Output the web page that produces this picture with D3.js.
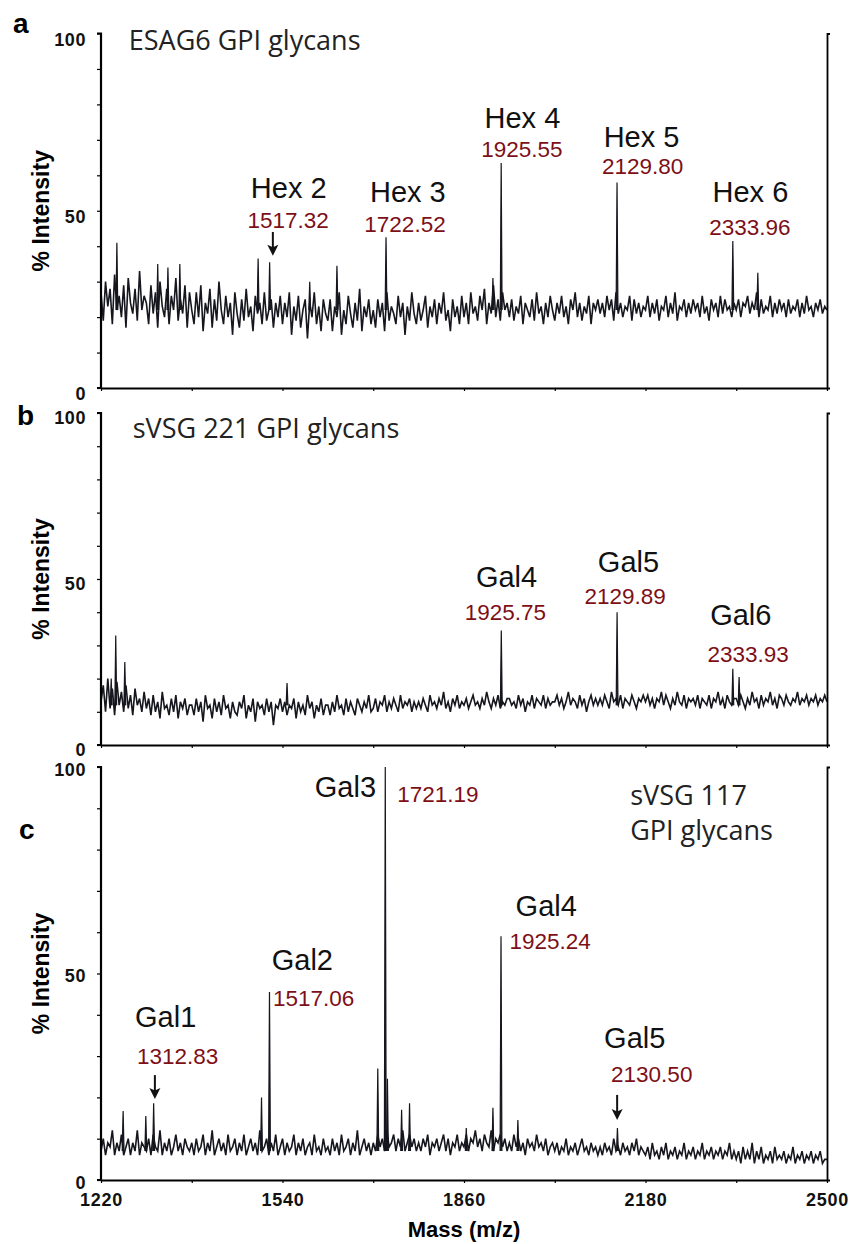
<!DOCTYPE html>
<html>
<head>
<meta charset="utf-8">
<script src="https://cdn.jsdelivr.net/npm/d3@7"></script>
<style>
body { margin: 0; background: #fff; }
</style>
</head>
<body>
<div id="chart"></div>
<script>
// Spektrumens brus: ett värde var 4:e m/z från 1220 till 2500
var mzStart = 1220, mzStep = 4;

var noiseA = [
 27,19,30,23,28,18,32,22,26,20,29,17,31,24,21,28,19,33,22,26,
 24,18,29,21,27,17,30,23,20,28,18,26,22,31,19,25,21,29,17,27,
 22,18,27,20,29,16,24,21,28,17,25,19,30,22,18,26,20,24,15,27,
 21,17,25,19,28,20,23,16,26,21,24,18,27,19,22,25,17,24,20,26,
 18,24,20,27,15,23,19,26,17,22,25,14,24,20,27,18,23,16,25,21,
 19,25,16,23,20,27,15,22,18,26,21,17,24,19,28,16,23,20,25,18,
 22,17,25,20,24,16,27,19,23,21,18,26,20,24,15,23,19,27,21,18,
 24,19,22,26,17,23,20,25,18,24,21,27,19,22,16,25,20,23,18,26,
 20,24,18,27,21,23,19,26,22,28,18,24,21,29,20,25,19,27,22,24,
 20,25,19,23,21,26,18,24,22,20,25,19,27,21,23,18,24,20,26,22,
 19,24,21,26,20,23,18,25,22,27,20,24,19,23,21,26,18,24,22,25,
 21,24,20,26,22,25,19,27,21,24,20,23,22,26,19,25,21,24,20,23,
 22,26,20,24,21,25,19,23,22,26,20,24,21,27,19,23,22,25,20,24,
 21,25,22,24,20,26,21,23,19,25,22,24,20,26,21,25,22,23,20,24,
 22,25,20,24,23,26,21,24,22,27,20,25,21,23,22,26,20,24,21,25,
 22,24,20,25,21,23,22,25,20,24,21,26,22,23,20,24,22,25,21,23,
 22
];

var noiseB = [
 13,18,10,20,11,17,9,19,12,16,10,18,11,15,9,17,12,14,10,16,
 11,14,9,15,10,13,8,16,11,12,9,14,10,15,8,13,11,14,9,12,
 12,9,14,10,13,7,15,11,12,8,14,10,13,9,15,11,12,8,13,10,
 9,13,11,15,8,12,10,14,7,13,11,12,9,14,10,13,6,12,11,14,
 10,13,9,12,11,14,8,13,10,12,9,15,11,13,8,12,10,14,9,12,
 12,9,13,10,15,11,12,9,14,10,13,11,9,14,12,10,13,11,15,10,
 11,14,10,13,12,15,10,13,11,14,12,10,15,11,13,12,14,10,13,11,
 13,11,14,12,10,15,12,13,11,14,12,16,11,13,10,14,12,15,11,13,
 12,14,11,13,15,12,13,11,14,12,16,13,11,14,12,15,11,13,12,14,
 14,12,13,11,15,12,14,10,13,12,15,11,14,13,12,15,11,14,12,13,
 13,15,12,14,11,13,16,12,14,13,11,15,12,14,10,13,15,12,14,12,
 14,12,15,13,11,16,13,14,12,15,11,14,13,12,15,13,11,14,13,15,
 13,15,12,14,11,14,13,16,12,15,13,11,14,12,16,13,12,15,11,14,
 13,14,12,15,11,14,13,12,15,11,14,13,16,12,14,11,15,13,12,14,
 14,12,15,13,11,14,12,16,13,14,11,15,12,14,13,16,12,14,11,15,
 14,12,15,13,12,14,13,16,12,14,13,15,12,14,13,15,12,14,13,15,
 13
];

var noiseC = [
 7,10,6,9,8,12,6,9,7,11,6,8,10,6,9,7,12,6,9,8,
 7,10,6,11,8,7,12,6,9,7,10,6,8,11,7,9,6,10,8,7,
 9,6,10,7,8,11,6,9,7,12,6,8,10,7,9,6,11,7,8,10,
 6,9,7,11,6,8,10,7,9,6,12,7,8,10,6,9,7,11,6,8,
 10,6,9,7,8,11,6,9,7,10,6,8,9,6,11,7,8,6,10,7,
 8,6,10,7,9,6,11,7,8,10,6,9,7,12,6,8,10,7,9,6,
 9,7,11,8,10,7,12,8,9,11,7,10,8,12,7,9,11,8,10,7,
 9,7,10,8,11,6,9,8,10,7,9,11,7,10,6,9,8,11,7,9,
 8,11,7,10,9,12,8,10,7,11,9,8,12,7,10,9,11,8,10,7,
 9,7,11,8,10,7,9,6,10,8,9,7,11,8,9,7,10,6,8,9,
 7,9,6,8,7,10,6,8,7,9,6,8,10,7,8,6,9,7,8,6,
 8,6,9,7,8,6,10,7,8,6,9,7,8,6,9,7,10,6,8,7,
 6,8,5,9,6,7,5,8,6,9,5,7,6,8,5,7,6,9,5,7,
 6,8,5,7,6,9,5,7,6,8,5,7,6,8,5,7,6,9,5,7,
 5,7,4,8,5,7,5,9,4,7,5,8,4,6,5,7,4,8,5,6,
 5,7,4,6,5,8,4,6,5,7,4,6,5,7,4,6,5,7,4,5,
 5
];

// Toppar [m/z, % intensitet] och brusets nivå under dem
var peaksA = [[1248,41],[1320,35],[1338,34],[1359,35],[1497,36.5],[1517.32,35.5],[1588,30],
              [1636,34.5],[1722.52,42.5],[1911,31],[1925.55,63.5],[2129.8,58],[2333.96,41.5],[2378,32.5]];
var peaksB = [[1238,20],[1246,33],[1262,25],[1548,18.7],[1925.75,34.5],[2129.89,40],[2333.93,23],[2345,20.5]];
var peaksC = [[1259,16.7],[1299,15.5],[1312.83,18.6],[1503,20],[1517.06,45.5],[1708,27],[1721.19,100],
              [1725,24.5],[1750,17],[1764,18.6],[1864,12.6],[1911,17.5],[1925.24,59],[1955,14.5],[2130.5,12.6]];
var baseA = 22, baseB = 12, baseC = 7;

// Texter
var titleA = ["ESAG6 GPI glycans"];
var titleB = ["sVSG 221 GPI glycans"];
var titleC = ["sVSG 117", "GPI glycans"];
var namesA = ["Hex 2", "Hex 3", "Hex 4", "Hex 5", "Hex 6"];
var massesA = ["1517.32", "1722.52", "1925.55", "2129.80", "2333.96"];
var namesB = ["Gal4", "Gal5", "Gal6"];
var massesB = ["1925.75", "2129.89", "2333.93"];
var namesC = ["Gal1", "Gal2", "Gal3", "Gal4", "Gal5"];
var massesC = ["1312.83", "1517.06", "1721.19", "1925.24", "2130.50"];

// Axlar
var xTicks = [1220, 1380, 1540, 1700, 1860, 2020, 2180, 2340, 2500];
var xLabels = [1220, 1540, 1860, 2180, 2500];
var yTicks = [0, 10, 20, 30, 40, 50, 60, 70, 80, 90, 100];
var yLabels = [0, 50, 100];

var width = 865, height = 1244;
var red = "#7d0f17", ink = "#16161f";

var svg = d3.select("#chart").append("svg")
    .attr("width", width).attr("height", height)
    .style("font-family", "'Liberation Sans', Arial, Helvetica, sans-serif");

var x = d3.scaleLinear().domain([1220, 2500]).range([101, 827]);

// Placering av etiketter i datakoordinater: [namn m/z, namn %, massa m/z, massa %]
var panels = [
    {letter: "a", letterX: 13, letterY: 33, top: 33.5, bottom: 388, labelDy: 11.5,
     noise: noiseA, peaks: peaksA, base: baseA,
     title: titleA, titlePos: [[1269, 95.3]], names: namesA, masses: massesA,
     place: [[1551, 53.6, 1550, 45.1], [1761, 52.5, 1756, 44], [1963, 73.3, 1962, 65.2],
             [2173, 68, 2175, 60.4], [2365, 52.5, 2364, 43.2]],
     arrows: [[1523, 44, 37.3]], showX: false},
    {letter: "b", letterX: 17, letterY: 425, top: 413, bottom: 745, labelDy: 10.5,
     noise: noiseB, peaks: peaksB, base: baseB,
     title: titleB, titlePos: [[1276, 92.5]], names: namesB, masses: massesB,
     place: [[1935, 47.6, 1933, 37.7], [2150, 52.1, 2144, 42.5], [2348, 36.1, 2361, 25]],
     arrows: [], showX: false},
    {letter: "c", letterX: 19, letterY: 839, top: 767, bottom: 1180, labelDy: 8,
     noise: noiseC, peaks: peaksC, base: baseC,
     title: titleC, titlePos: [[2153, 90.8], [2153, 82.3]], names: namesC, masses: massesC,
     place: [[1334, 37, 1355, 28.1], [1575, 50.8, 1595, 42.1], [1651, 92.7, 1814, 91.5],
             [2005, 63.9, 2012, 55.9], [2161, 32, 2191, 23.7]],
     arrows: [[1315, 25.4, 19.6], [2130, 20.6, 14.5]], showX: true}
];

panels.forEach(drawPanel);

function drawPanel(p) {
    var y = d3.scaleLinear().domain([0, 100]).range([p.bottom, p.top]);
    var g = svg.append("g");

    // Spektrumet (brus)
    var pts = p.noise.map(function(v, i) { return [mzStart + i * mzStep, v]; });
    var line = d3.line().x(d => x(d[0])).y(d => y(d[1]));
    g.append("path").attr("d", line(pts))
        .attr("fill", "none").attr("stroke", ink).attr("stroke-width", 1.6);

    // Toppar som smala spikar
    g.selectAll("path.peak").data(p.peaks).enter().append("path")
        .attr("class", "peak")
        .attr("d", d => line([[d[0] - 1.6, p.base], [d[0], d[1]], [d[0] + 1.6, p.base]]))
        .attr("fill", ink).attr("stroke", ink).attr("stroke-width", 1.2);

    // Axlar
    var yAxis = d3.axisLeft(y).tickValues(yTicks).tickSize(4)
        .tickFormat(d => yLabels.indexOf(d) >= 0 ? d : "");
    var ya = g.append("g").attr("transform", "translate(101,0)").call(yAxis);
    ya.select(".domain").attr("stroke-width", 2.2).attr("d", "M-4," + p.top + "H0V" + p.bottom + "H-4");
    ya.selectAll("line").attr("stroke-width", 1.2);
    ya.selectAll("text").attr("x", -15).attr("dy", null).attr("y", p.labelDy)
        .style("font-size", "18px").style("font-weight", "bold").style("letter-spacing", "0.6px")
        .attr("fill", "#111").attr("font-family", null);

    var ra = g.append("g").attr("transform", "translate(827,0)")
        .call(d3.axisRight(y).tickValues([0, 100]).tickSize(3).tickFormat(""));
    ra.select(".domain").attr("stroke-width", 1.8);

    var xAxis = d3.axisBottom(x).tickValues(xTicks).tickSize(3).tickSizeOuter(0)
        .tickFormat(d => p.showX && xLabels.indexOf(d) >= 0 ? d : "");
    var xa = g.append("g").attr("transform", "translate(0," + p.bottom + ")").call(xAxis);
    xa.select(".domain").attr("stroke-width", 2.2);
    xa.selectAll("line").attr("stroke-width", 1.2);
    xa.selectAll("text").attr("y", 26).attr("dy", null)
        .style("font-size", "18px").style("font-weight", "bold").style("letter-spacing", "0.8px")
        .attr("fill", "#111").attr("font-family", null);

    // Y-axelns titel
    g.append("text")
        .attr("transform", "translate(49," + ((p.top + p.bottom) / 2) + ") rotate(-90)")
        .attr("text-anchor", "middle")
        .style("font-size", "23px").style("font-weight", "bold")
        .text("% Intensity");

    // Panelbokstav
    g.append("text").attr("x", p.letterX).attr("y", p.letterY)
        .style("font-size", "28px").style("font-weight", "bold").text(p.letter);

    // Panelens rubrik
    p.title.forEach(function(t, i) {
        g.append("text").attr("x", x(p.titlePos[i][0])).attr("y", y(p.titlePos[i][1]))
            .style("font-family", "'Open Sans', sans-serif").style("font-size", "27px")
            .attr("fill", "#222").text(t);
    });

    // Etiketter för topparna
    p.names.forEach(function(n, i) {
        var pl = p.place[i];
        g.append("text").attr("x", x(pl[0])).attr("y", y(pl[1]))
            .attr("text-anchor", "middle").style("font-size", "29px").attr("fill", "#111").text(n);
        g.append("text").attr("x", x(pl[2])).attr("y", y(pl[3]))
            .attr("text-anchor", "middle").style("font-size", "22.5px").attr("fill", red).text(p.masses[i]);
    });

    // Pilar
    p.arrows.forEach(function(a) {
        var ax = x(a[0]), y1 = y(a[1]), y2 = y(a[2]);
        g.append("line").attr("x1", ax).attr("x2", ax).attr("y1", y1).attr("y2", y2 - 8)
            .attr("stroke", "#111").attr("stroke-width", 2);
        g.append("path")
            .attr("d", "M" + ax + "," + y2 + "L" + (ax - 5.5) + "," + (y2 - 11) + "L" + ax + "," + (y2 - 8.5) +
                 "L" + (ax + 5.5) + "," + (y2 - 11) + "Z")
            .attr("fill", "#111");
    });
}

// X-axelns titel
svg.append("text").attr("x", 464).attr("y", 1237).attr("text-anchor", "middle")
    .style("font-size", "22px").style("font-weight", "bold").text("Mass (m/z)");
</script>
</body>
</html>
